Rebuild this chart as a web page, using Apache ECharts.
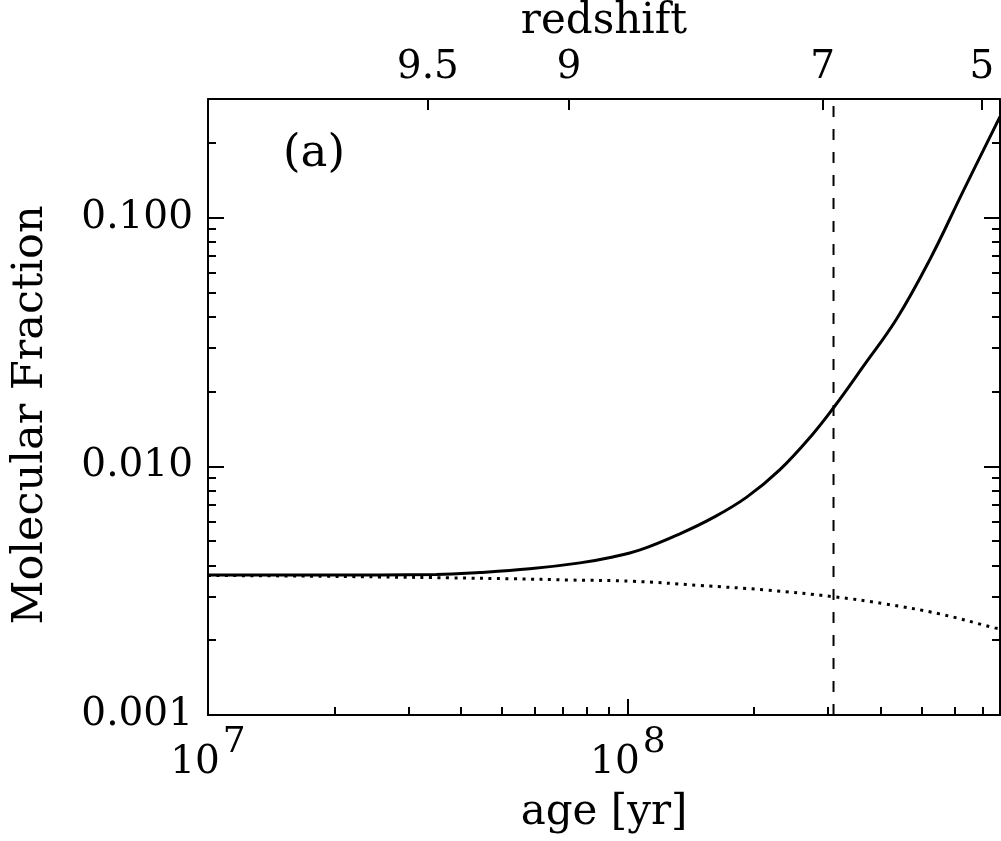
<!DOCTYPE html>
<html>
<head>
<meta charset="utf-8">
<script src="https://cdn.jsdelivr.net/npm/echarts@6/dist/echarts.min.js"></script>
<style>html,body{margin:0;padding:0;background:#fff}#c{width:1001px;height:841px}</style>
</head>
<body>
<div id="c"></div>
<script>
// ---- data (age in yr, molecular fraction) ----
const solidAge  = [1.0e7, 1.66e7, 2.57e7, 3.5e7, 4.44e7, 5.84e7, 7.69e7, 9.21e7, 1.07e8, 1.33e8, 1.60e8, 1.92e8, 2.30e8, 2.76e8, 3.09e8, 3.63e8, 4.37e8, 5.24e8, 6.28e8, 7.7e8];
const solidFrac = [0.00366, 0.00366, 0.00366, 0.00367, 0.00374, 0.00387, 0.00409, 0.00432, 0.00461, 0.00535, 0.00623, 0.00752, 0.00968, 0.0135, 0.0172, 0.0251, 0.0392, 0.0678, 0.127, 0.255];
const dottedAge  = [1.0e7, 1.66e7, 2.57e7, 3.77e7, 5.32e7, 7.28e7, 1.03e8, 1.48e8, 2.14e8, 3.09e8, 4.09e8, 5.53e8, 7.48e8, 7.7e8];
const dottedFrac = [0.00364, 0.00362, 0.00359, 0.00356, 0.00353, 0.00349, 0.00345, 0.00332, 0.00318, 0.00299, 0.00280, 0.00255, 0.00224, 0.00222];
const markerAge = 3.09e8;               // vertical dashed line

// ---- axis ranges and ticks ----
const xMin = 1e7, xMax = 7.7e8;
const yMin = 0.001, yMax = 0.3;
const xMajorValues = [1e7, 1e8];
const xMajorBase = ['10', '10'];
const xMajorExp  = ['7', '8'];
const xMinorValues = [2e7, 3e7, 4e7, 5e7, 6e7, 7e7, 8e7, 9e7, 2e8, 3e8, 4e8, 5e8, 6e8, 7e8];
const yMajorValues = [0.001, 0.01, 0.1];
const yMajorLabels = ['0.001', '0.010', '0.100'];
const yMinorValues = [0.002, 0.003, 0.004, 0.005, 0.006, 0.007, 0.008, 0.009, 0.02, 0.03, 0.04, 0.05, 0.06, 0.07, 0.08, 0.09, 0.2];
const redshiftLabels = ['9.5', '9', '7', '5'];
const redshiftAges   = [3.34e7, 7.24e7, 2.91e8, 6.97e8];

const FONT = 'DejaVu Serif';
const L = Math.log10;
const rect = {left: 208, top: 99, width: 792, height: 616, outerBoundsMode: 'none', containLabel: false};
const lineSt = {color: '#000', width: 2};
function pick(vals, labels, v) {
  for (let i = 0; i < vals.length; i++) if (Math.abs(L(vals[i]) - v) < 1e-6) return labels[i];
  return '';
}
const txt = {fontFamily: FONT, fontSize: 39, color: '#000'};

const option = {
  animation: false,
  backgroundColor: '#fff',
  grid: [
    Object.assign({}, rect),
    Object.assign({}, rect),
    Object.assign({}, rect)
  ],
  xAxis: [
    {gridIndex: 0, type: 'log', logBase: 10, min: xMin, max: xMax, show: false},
    {gridIndex: 1, type: 'value', position: 'bottom', min: L(xMin), max: L(xMax),
     axisLine: {show: true, onZero: false, lineStyle: lineSt},
     axisTick: {show: true, inside: true, length: 16, lineStyle: lineSt, customValues: xMajorValues.map(L)},
     axisLabel: {show: true, margin: 18, customValues: xMajorValues.map(L),
       formatter: v => '{b|' + pick(xMajorValues, xMajorBase, v) + '}{s|' + pick(xMajorValues, xMajorExp, v) + '}',
       rich: {
         b: {fontFamily: FONT, fontSize: 39, color: '#000', lineHeight: 40, padding: [20, 0, 0, 0]},
         s: {fontFamily: FONT, fontSize: 36, color: '#000', lineHeight: 40, padding: [0, 0, 20, 3]}
       }},
     splitLine: {show: false},
     name: 'age [yr]', nameLocation: 'middle', nameGap: 77,
     nameTextStyle: {fontFamily: FONT, fontSize: 42, color: '#000'}},
    {gridIndex: 1, type: 'value', position: 'top', min: L(xMin), max: L(xMax),
     axisLine: {show: true, onZero: false, lineStyle: lineSt},
     axisTick: {show: true, inside: true, length: 11, lineStyle: lineSt, customValues: redshiftAges.map(L)},
     axisLabel: {show: true, margin: 12, customValues: redshiftAges.map(L),
       formatter: v => pick(redshiftAges, redshiftLabels, v), ...txt},
     splitLine: {show: false},
     name: 'redshift', nameLocation: 'middle', nameGap: 47,
     nameTextStyle: {fontFamily: FONT, fontSize: 42, color: '#000'}},
    {gridIndex: 2, type: 'value', position: 'bottom', min: L(xMin), max: L(xMax),
     axisLine: {show: false},
     axisTick: {show: true, inside: true, length: 8, lineStyle: lineSt, customValues: xMinorValues.map(L)},
     axisLabel: {show: false}, splitLine: {show: false}}
  ],
  yAxis: [
    {gridIndex: 0, type: 'log', logBase: 10, min: yMin, max: yMax, show: false},
    {gridIndex: 1, type: 'value', position: 'left', min: L(yMin), max: L(yMax),
     axisLine: {show: true, onZero: false, lineStyle: lineSt},
     axisTick: {show: true, inside: true, length: 16, lineStyle: lineSt, customValues: yMajorValues.map(L)},
     axisLabel: {show: true, margin: 15, customValues: yMajorValues.map(L),
       formatter: v => pick(yMajorValues, yMajorLabels, v), ...txt},
     splitLine: {show: false},
     name: 'Molecular Fraction', nameLocation: 'middle', nameGap: 156, nameRotate: 90,
     nameTextStyle: {fontFamily: FONT, fontSize: 43, color: '#000', padding: [0, 16, 0, 0]}},
    {gridIndex: 1, type: 'value', position: 'right', min: L(yMin), max: L(yMax),
     axisLine: {show: true, onZero: false, lineStyle: lineSt},
     axisTick: {show: true, inside: true, length: 16, lineStyle: lineSt, customValues: yMajorValues.map(L)},
     axisLabel: {show: false}, splitLine: {show: false}},
    {gridIndex: 2, type: 'value', position: 'left', min: L(yMin), max: L(yMax),
     axisLine: {show: false},
     axisTick: {show: true, inside: true, length: 8, lineStyle: lineSt, customValues: yMinorValues.map(L)},
     axisLabel: {show: false}, splitLine: {show: false}},
    {gridIndex: 2, type: 'value', position: 'right', min: L(yMin), max: L(yMax),
     axisLine: {show: false},
     axisTick: {show: true, inside: true, length: 8, lineStyle: lineSt, customValues: yMinorValues.map(L)},
     axisLabel: {show: false}, splitLine: {show: false}}
  ],
  graphic: [
    {type: 'text', left: 283, top: 132, style: {text: '(a)', fontFamily: FONT, fontSize: 45, fill: '#000'}}
  ],
  series: [
    {type: 'line', xAxisIndex: 0, yAxisIndex: 0, showSymbol: false, smooth: 0.4,
     data: solidAge.map((a, i) => [a, solidFrac[i]]),
     lineStyle: {color: '#000', width: 3}, z: 5},
    {type: 'line', xAxisIndex: 0, yAxisIndex: 0, showSymbol: false, smooth: 0.4,
     data: dottedAge.map((a, i) => [a, dottedFrac[i]]),
     lineStyle: {color: '#000', width: 3, type: [3, 5.5], cap: 'butt'}, z: 4},
    {type: 'line', xAxisIndex: 0, yAxisIndex: 0, showSymbol: false,
     data: [[markerAge, yMin], [markerAge, yMax]],
     lineStyle: {color: '#000', width: 2, type: [11, 12]}, z: 3}
  ]
};
echarts.init(document.getElementById('c'), null, {renderer: 'canvas'}).setOption(option);
</script>
</body>
</html>
